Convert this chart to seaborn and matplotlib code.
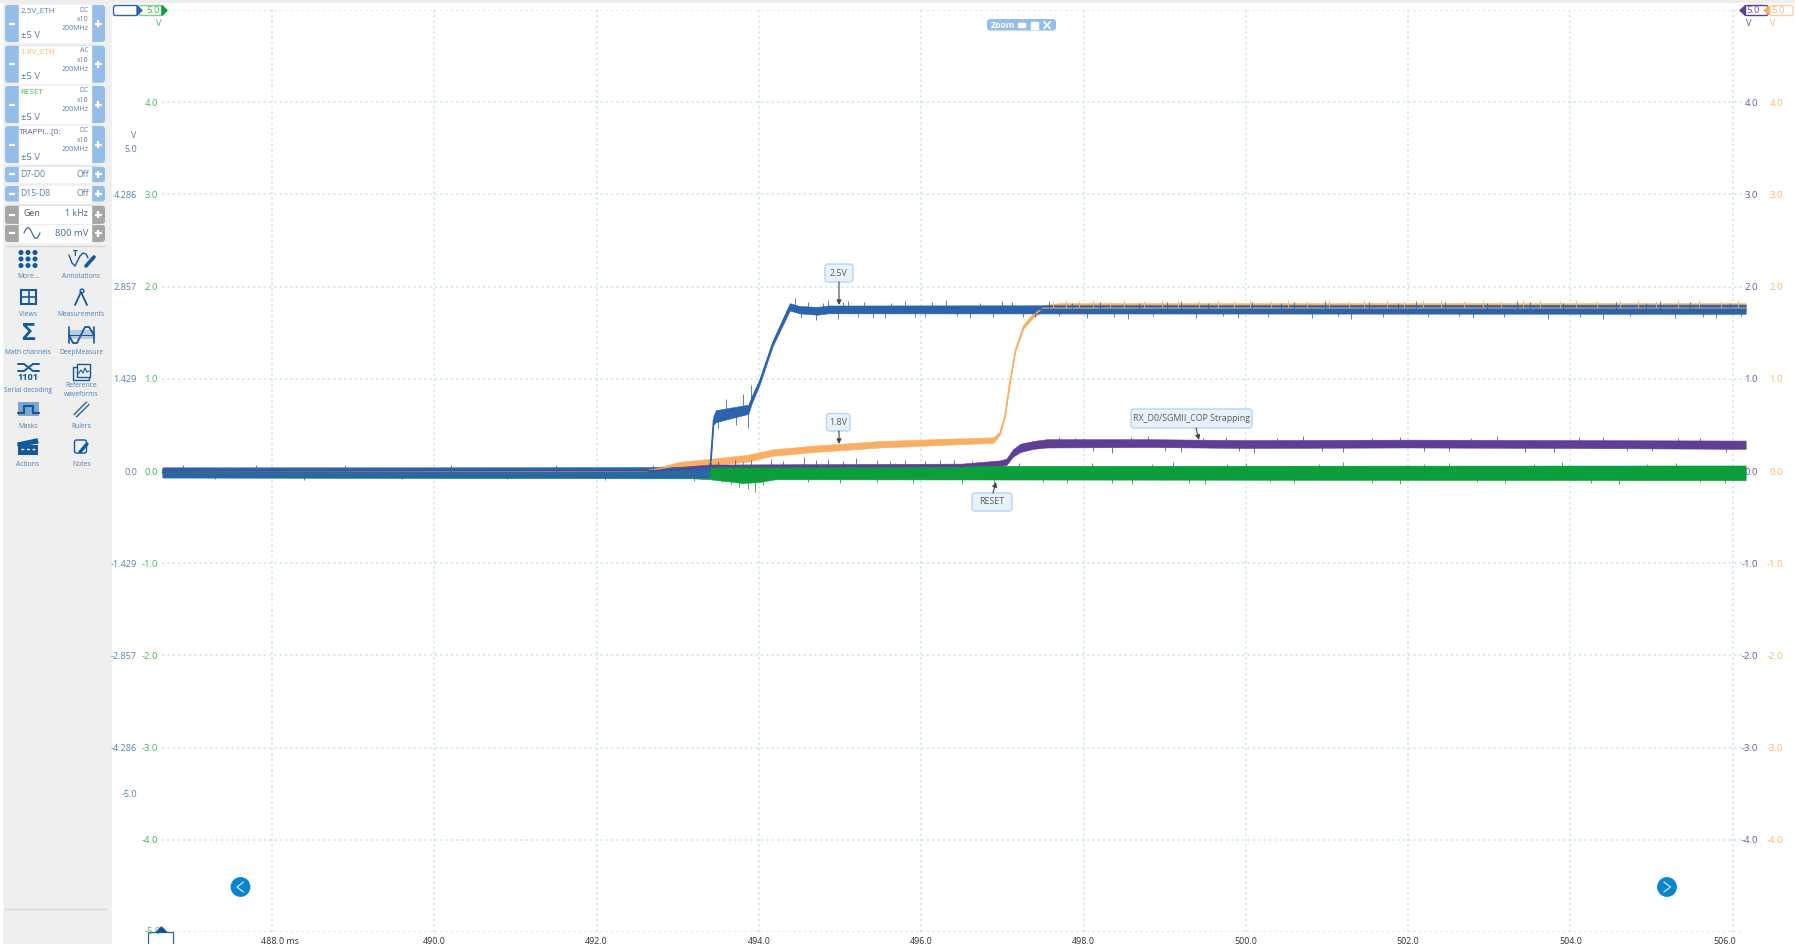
"""Scope capture: power-up of the 2.5 V / 1.8 V rails with RESET and a strapping pin."""

import numpy as np
import pandas as pd
import matplotlib.pyplot as plt
from matplotlib.patches import FancyBboxPatch, Rectangle, Polygon, Circle
from matplotlib.transforms import ScaledTranslation
import seaborn as sns

# ================= DATA =================
# low / high are the edges of the noise band of each trace, in volts
ORANGE_T = [486.65, 492.6, 492.8, 493.03, 493.43, 493.85, 494.17, 494.67, 495.5, 496.31, 496.89, 496.97,
            497.03, 497.09, 497.16, 497.26, 497.38, 497.5, 497.7, 506.16]
ORANGE_LOW = [-0.05, -0.03, 0.01, 0.03, 0.065, 0.10, 0.165, 0.205, 0.255, 0.285, 0.305, 0.395,
              0.58, 0.94, 1.30, 1.545, 1.665, 1.73, 1.71, 1.71]
ORANGE_HIGH = [0.02, 0.03, 0.05, 0.10, 0.135, 0.175, 0.235, 0.275, 0.325, 0.35, 0.365, 0.425,
               0.60, 0.96, 1.32, 1.585, 1.715, 1.80, 1.82, 1.82]

PURPLE_T = [486.65, 492.8, 493.4, 496.5, 496.97, 497.05, 497.13, 497.22, 497.38, 497.55, 498.8, 500.0, 502.0, 504.0, 506.16]
PURPLE_LOW = [-0.03, -0.02, 0.02, 0.02, 0.055, 0.065, 0.155, 0.205, 0.24, 0.255, 0.26, 0.25, 0.255, 0.25, 0.24]
PURPLE_HIGH = [0.03, 0.03, 0.07, 0.08, 0.115, 0.135, 0.235, 0.295, 0.325, 0.345, 0.345, 0.335, 0.34, 0.335, 0.33]

GREEN_T = [486.65, 493.2, 493.4, 493.8, 494.0, 494.2, 506.16]
GREEN_LOW = [-0.07, -0.08, -0.09, -0.13, -0.12, -0.09, -0.10]
GREEN_HIGH = [0.03, 0.04, 0.05, 0.06, 0.06, 0.055, 0.06]

BLUE_T = [486.65, 493.38, 493.40, 493.44, 493.47, 493.87, 493.91, 494.01, 494.17, 494.38, 494.5, 494.72, 494.85, 506.16]
BLUE_LOW = [-0.07, -0.07, 0.0, 0.50, 0.53, 0.62, 0.73, 0.94, 1.355, 1.74, 1.71, 1.695, 1.71, 1.705]
BLUE_HIGH = [0.04, 0.04, 0.12, 0.60, 0.66, 0.72, 0.81, 1.0, 1.415, 1.82, 1.79, 1.78, 1.795, 1.805]

# noise spikes sticking out of the bands: time, far end
BLUE_SPIKE_T = [486.9, 487.3, 487.8, 488.4, 488.9, 489.6, 490.2, 490.9, 491.5, 492.1, 492.7, 493.2,
                493.5, 493.6, 493.72, 493.8, 493.86, 493.9, 494.45, 494.52, 494.61, 494.7, 494.79, 494.85,
                494.98, 495.03, 495.1, 495.22, 495.3, 495.41, 495.55, 495.63, 495.8, 495.92, 496.05, 496.13,
                496.3, 496.44, 496.6, 496.72, 496.88, 497.0, 497.12, 497.26, 497.4, 497.57, 497.7, 497.86,
                498.04, 498.2, 498.37, 498.55, 498.68, 498.86, 499.03, 499.2, 499.39, 499.53, 499.72, 499.9,
                500.08, 500.27, 500.43, 500.6, 500.81, 500.97, 501.13, 501.3, 501.52, 501.69, 501.88, 502.1,
                502.24, 502.46, 502.63, 502.8, 502.97, 503.18, 503.34, 503.5, 503.73, 503.91, 504.12, 504.4,
                504.56, 504.74, 504.93, 505.1, 505.29, 505.47, 505.63, 505.8, 505.97, 506.1]
BLUE_SPIKE_V = [0.07, -0.09, 0.06, -0.10, 0.07, -0.09, 0.06, -0.09, 0.07, -0.10, 0.07, -0.11,
                0.47, 0.78, 0.50, 0.84, 0.47, 0.93, 1.88, 1.66, 1.83, 1.64, 1.82, 1.85,
                1.65, 1.83, 1.84, 1.67, 1.83, 1.66, 1.66, 1.82, 1.84, 1.67, 1.67, 1.83,
                1.85, 1.68, 1.66, 1.82, 1.67, 1.84, 1.83, 1.67, 1.67, 1.84, 1.68, 1.82,
                1.66, 1.83, 1.67, 1.65, 1.82, 1.68, 1.83, 1.84, 1.66, 1.82, 1.68, 1.66,
                1.83, 1.67, 1.82, 1.83, 1.66, 1.84, 1.68, 1.65, 1.83, 1.67, 1.82, 1.84,
                1.67, 1.83, 1.68, 1.66, 1.82, 1.67, 1.84, 1.83, 1.65, 1.82, 1.67, 1.65,
                1.83, 1.68, 1.82, 1.84, 1.66, 1.83, 1.67, 1.66, 1.82, 1.68]
ORANGE_SPIKE_T = [497.62, 497.78, 497.95, 498.12, 498.33, 498.5, 498.74, 498.97, 499.16, 499.42, 499.66, 499.85,
                  500.05, 500.31, 500.52, 500.76, 501.02, 501.27, 501.46, 501.74, 501.95, 502.18, 502.41, 502.69,
                  502.92, 503.14, 503.41, 503.62, 503.87, 504.07, 504.33, 504.61, 504.83, 505.05, 505.33, 505.58,
                  505.86, 506.07]
ORANGE_SPIKE_V = [1.84, 1.85, 1.84, 1.86, 1.84, 1.85, 1.84, 1.85, 1.86, 1.84, 1.85, 1.84,
                  1.85, 1.84, 1.86, 1.84, 1.85, 1.84, 1.86, 1.85, 1.84, 1.85, 1.86, 1.84,
                  1.85, 1.84, 1.85, 1.86, 1.84, 1.85, 1.84, 1.86, 1.85, 1.84, 1.85, 1.86,
                  1.84, 1.85]
PURPLE_SPIKE_T = [493.5, 493.7, 493.9, 494.15, 494.3, 494.55, 494.7, 494.85, 495.03, 495.2, 495.45, 495.62,
                  495.8, 496.05, 496.23, 496.4, 496.62, 497.7, 497.9, 498.12, 498.35, 498.58, 498.8, 499.0,
                  499.2, 499.47, 499.75, 499.92, 500.1, 500.38, 500.7, 500.94, 501.2, 501.55, 501.9, 502.2,
                  502.5, 502.77, 503.1, 503.44, 503.8, 504.1, 504.4, 504.7, 505.0, 505.32, 505.6, 505.92]
PURPLE_SPIKE_V = [0.11, 0.12, 0.12, 0.13, 0.11, 0.15, 0.12, 0.13, 0.11, 0.14, 0.12, 0.11,
                  0.12, 0.11, 0.12, 0.12, 0.11, 0.37, 0.36, 0.22, 0.20, 0.37, 0.38, 0.22,
                  0.21, 0.36, 0.37, 0.22, 0.20, 0.36, 0.38, 0.22, 0.21, 0.36, 0.37, 0.22,
                  0.22, 0.36, 0.38, 0.21, 0.21, 0.37, 0.37, 0.22, 0.22, 0.36, 0.36, 0.21]
GREEN_SPIKE_T = [493.55, 493.66, 493.75, 493.8, 493.86, 493.9, 493.95, 494.05, 494.3, 494.6, 494.78, 495.0,
                 495.2, 495.45, 495.68, 495.9, 496.2, 496.5, 496.7, 496.9, 497.2, 497.5, 497.8, 498.1,
                 498.35, 498.6, 498.85, 499.1, 499.3, 499.5, 499.77, 500.0, 500.3, 500.6, 500.9, 501.2,
                 501.55, 501.9, 502.2, 502.5, 502.85, 503.2, 503.55, 503.9, 504.25, 504.6, 504.95, 505.3,
                 505.6, 505.9]
GREEN_SPIKE_V = [-0.12, -0.14, -0.17, 0.10, -0.19, 0.09, -0.23, -0.15, 0.08, -0.12, 0.08, -0.13,
                 0.08, -0.12, 0.09, -0.13, 0.08, -0.14, 0.08, -0.15, 0.09, -0.12, -0.13, 0.09,
                 -0.13, -0.14, 0.08, 0.10, -0.13, -0.14, 0.08, 0.09, -0.12, -0.13, 0.08, 0.10,
                 -0.13, -0.14, 0.08, 0.09, -0.12, -0.13, 0.08, 0.10, -0.13, -0.14, 0.08, 0.09,
                 -0.12, -0.13]

TIME_TICKS = [488, 490, 492, 494, 496, 498, 500, 502, 504, 506]
VOLT_TICKS = [-4, -3, -2, -1, 0, 1, 2, 3, 4]
GRID_VOLTS = [-5, -4, -3, -2, -1, 0, 1, 2, 3, 4, 5]
BLUE_TICKS = [-5.0, -4.286, -2.857, -1.429, 0.0, 1.429, 2.857, 4.286, 5.0]
BLUE_SCALE = 3.5 / 5.0

CHANNELS = ["2.5V_ETH", "1.8V_ETH", "RESET", "TRAPPI...[0:"]
COUPLINGS = ["DC", "AC", "DC", "DC"]
CHANNEL_TOPS = [5, 45.7, 86, 126]
DIGITAL = ["D7-D0", "D15-D8"]
DIGITAL_TOPS = [166.7, 186]
CALLOUTS = [("2.5V", 825, 264, 853, 282, 839, 282, 839, 305),
            ("1.8V", 826.5, 413.5, 850, 431, 839, 431, 839, 444),
            ("RESET", 972, 493, 1012, 511, 993, 493, 996, 482),
            ("RX_D0/SGMII_COP Strapping", 1131, 409, 1252, 428, 1196, 428, 1199, 440)]

# ================= CONFIG =================
W, H = 1795, 944
AX_L, AX_R, AX_T, AX_B = 162, 1746, 10, 932
XLIM = (486.644, 506.164)
BLUE = "#2B63AD"
ORANGE = "#F9AE63"
GREEN = "#0A9F3B"
PURPLE = "#5E3F95"
BLUE_TXT = "#5B7DB1"
GREEN_TXT = "#45B85A"
PURPLE_TXT = "#6C55A3"
ORANGE_TXT = "#F5B878"
GRID = "#C6E6F1"
BTN = "#94BEE8"
ICON = "#14599B"
ICON_TXT = "#4C7DB5"
FS = 6.4

sns.set_theme(style="white")
plt.rcParams["font.family"] = ["Open Sans", "DejaVu Sans"]


def band_rows(name, t, low, high):
    rows = pd.DataFrame({"t": t + t, "v": low + high})
    rows["channel"] = name
    return rows


def draw_spikes(ax, t_list, v_list, t_base, low, high, col, z):
    # spikes start from the middle of the band
    mid = np.interp(t_list, t_base, (np.array(low) + np.array(high)) / 2)
    ax.vlines(t_list, mid, v_list, color=col, lw=0.7, alpha=0.8, zorder=z)


def draw_traces(ax):
    df = pd.concat([band_rows("1.8V", ORANGE_T, ORANGE_LOW, ORANGE_HIGH),
                    band_rows("TRAP", PURPLE_T, PURPLE_LOW, PURPLE_HIGH),
                    band_rows("RESET", GREEN_T, GREEN_LOW, GREEN_HIGH),
                    band_rows("2.5V", BLUE_T, BLUE_LOW, BLUE_HIGH)])
    palette = {"1.8V": ORANGE, "TRAP": PURPLE, "RESET": GREEN, "2.5V": BLUE}
    sns.lineplot(data=df, x="t", y="v", hue="channel", hue_order=list(palette), palette=palette,
                 errorbar=("pi", 100), err_kws={"alpha": 1, "linewidth": 0.4},
                 linewidth=1, legend=False, ax=ax, clip_on=False)
    draw_spikes(ax, ORANGE_SPIKE_T, ORANGE_SPIKE_V, ORANGE_T, ORANGE_LOW, ORANGE_HIGH, ORANGE, 1.5)
    draw_spikes(ax, PURPLE_SPIKE_T, PURPLE_SPIKE_V, PURPLE_T, PURPLE_LOW, PURPLE_HIGH, PURPLE, 1.5)
    draw_spikes(ax, GREEN_SPIKE_T, GREEN_SPIKE_V, GREEN_T, GREEN_LOW, GREEN_HIGH, GREEN, 1.5)
    draw_spikes(ax, BLUE_SPIKE_T, BLUE_SPIKE_V, BLUE_T, BLUE_LOW, BLUE_HIGH, BLUE, 3)


def setup_axes(ax):
    ax.patch.set_alpha(0)
    ax.set_xlim(*XLIM)
    ax.set_ylim(-5, 5)
    ax.set_xticks(TIME_TICKS)
    ax.set_xticklabels(["488.0 ms"] + [f"{t:.1f}" for t in TIME_TICKS[1:]], fontsize=FS, color="#333333")
    ax.set_yticks(GRID_VOLTS)
    ax.set_yticklabels(["" if abs(v) == 5 else f"{v:.1f}" for v in GRID_VOLTS], fontsize=FS + 0.4, color=GREEN_TXT)
    ax.tick_params(axis="both", length=0, pad=3)
    ax.tick_params(axis="x", pad=3.5)
    ax.grid(True, color=GRID, linestyle=(0, (1.5, 2)), linewidth=1.1)
    ax.set_xlabel("")
    ax.set_ylabel("")
    ax.set_axisbelow(True)
    sns.despine(ax=ax, left=True, bottom=True)


def side_scales(ax):
    # blue channel has its own left scale, purple and orange on the right
    blue = ax.secondary_yaxis(-0.0158, functions=(lambda v: v / BLUE_SCALE, lambda v: v * BLUE_SCALE))
    blue.set_yticks(BLUE_TICKS)
    blue.set_yticklabels([f"{v:.3f}" if abs(v) % 1 else f"{v:.1f}" for v in BLUE_TICKS],
                         fontsize=FS + 0.2, color=BLUE_TXT)
    blue.tick_params(length=0, pad=0)
    blue.spines["left"].set_visible(False)
    for loc, col in [(1.0076, PURPLE_TXT), (1.0234, ORANGE_TXT)]:
        side = ax.secondary_yaxis(loc)
        side.set_yticks(VOLT_TICKS)
        side.set_yticklabels([f"{v:.1f}" for v in VOLT_TICKS], fontsize=FS + 0.4, color=col, ha="right")
        side.tick_params(length=0, pad=0)
        side.spines["right"].set_visible(False)


def box(ui, x0, y0, x1, y1, face, edge="none", r=3, lw=0.8, z=2):
    ui.add_patch(FancyBboxPatch((x0, y0), x1 - x0, y1 - y0, boxstyle=f"round,pad=0,rounding_size={r}",
                                facecolor=face, edgecolor=edge, linewidth=lw, zorder=z))


def label(ui, x, y, s, col=BLUE_TXT, fs=FS, ha="left", weight="normal", z=5):
    ui.text(x, y, s, color=col, fontsize=fs, ha=ha, va="center", fontweight=weight, zorder=z)


def stepper(ui, top, bottom, col=BTN, fg="white"):
    box(ui, 5, top, 105, bottom, col, r=3)
    ui.add_patch(Rectangle((19, top), 72, bottom - top, facecolor="white", zorder=3))
    mid = (top + bottom) / 2
    ui.plot([9, 15], [mid, mid], color=fg, lw=1.6, zorder=4, solid_capstyle="butt")
    ui.plot([94.5, 101.5], [mid, mid], color=fg, lw=1.6, zorder=4, solid_capstyle="butt")
    ui.plot([98, 98], [mid - 3.5, mid + 3.5], color=fg, lw=1.6, zorder=4, solid_capstyle="butt")


def side_panel(ui):
    ui.add_patch(Rectangle((2, 0), 110, H, facecolor="#EFEFEF", zorder=1))
    channel_cols = [BLUE_TXT, ORANGE_TXT, GREEN_TXT, PURPLE_TXT]
    for name, coupling, top, col in zip(CHANNELS, COUPLINGS, CHANNEL_TOPS, channel_cols):
        stepper(ui, top, top + 37)
        label(ui, 18.5 if name.startswith("TRAP") else 20.5, top + 6, name, col, 5.9)
        label(ui, 89, top + 5, coupling, BLUE_TXT, 5, "right")
        label(ui, 89, top + 14.5, "x10", BLUE_TXT, 5, "right")
        label(ui, 89, top + 23.5, "200MHz", BLUE_TXT, 5, "right")
        label(ui, 21, top + 31, "±5 V", BLUE_TXT, 6.8)
    for name, top in zip(DIGITAL, DIGITAL_TOPS):
        stepper(ui, top, top + 15.5)
        label(ui, 20, top + 8, name, BLUE_TXT, 6.2)
        label(ui, 89, top + 8, "Off", BLUE_TXT, 6.2, "right")
    stepper(ui, 205.7, 224, "#A6A6A6")
    stepper(ui, 224.5, 242, "#A6A6A6")
    ui.plot([5, 105], [224.2, 224.2], color="#EFEFEF", lw=0.8, zorder=4)
    label(ui, 23, 214, "Gen", "#555555", 6.4)
    label(ui, 88, 214, "1 kHz", "#4A6A90", 6.4, "right")
    label(ui, 88, 233, "800 mV", "#4A6A90", 6.8, "right")
    wave_x = [24, 26, 28, 30, 32, 34, 36, 38, 40]
    wave_y = [233, 229, 227.5, 229, 233, 237, 238.5, 237, 233]
    ui.plot(wave_x, wave_y, color="#4A6A90", lw=0.9, zorder=5)
    ui.plot([5, 105], [246, 246], color="#D8D8D8", lw=1, zorder=2)
    ui.plot([5, 106], [909, 909], color="#D8D8D8", lw=1, zorder=2)


def tool_icons(ui):
    for dx in (21, 28, 35):
        for dy in (252.5, 259, 265.5):
            ui.add_patch(Circle((dx, dy), 1.8, color=ICON, zorder=5))
    # annotations: curve, T and pencil
    ui.plot([69, 72, 75, 77, 80, 83, 86, 88], [255, 263, 266, 262, 256, 253, 254, 258], color=ICON, lw=1, zorder=5)
    label(ui, 75.5, 254, "T", ICON, 6, "center", "bold")
    ui.plot([86, 94], [266, 257], color=ICON, lw=2.6, zorder=5)
    # views
    ui.add_patch(Rectangle((21, 290), 15, 14, fill=False, edgecolor=ICON, lw=1.5, zorder=5))
    ui.plot([28.5, 28.5], [290, 304], color=ICON, lw=1.2, zorder=5)
    ui.plot([21, 36], [297, 297], color=ICON, lw=1.2, zorder=5)
    # measurements: compass
    ui.plot([75, 81, 87], [305, 292, 305], color=ICON, lw=1.3, zorder=5)
    ui.add_patch(Circle((82, 291), 1.9, fill=False, edgecolor=ICON, lw=1, zorder=5))
    # math
    label(ui, 28.5, 334.5, "Σ", ICON, 17, "center", "bold")
    # deep measure
    ui.plot([69, 69], [327, 343], color=ICON, lw=1.2, zorder=5)
    ui.plot([94, 94], [327, 343], color=ICON, lw=1.2, zorder=5)
    ui.add_patch(Rectangle((69, 330), 25, 9, facecolor="#B9CCE0", edgecolor="none", zorder=4))
    ui.plot([69, 73, 77, 81, 85, 89, 94], [335, 343, 343, 335, 327, 327, 335], color=ICON, lw=1.3, zorder=5)
    ui.plot([69, 94], [335, 335], color=ICON, lw=0.8, zorder=5)
    # serial decoding
    ui.plot([18, 24, 33, 39], [364, 364, 371, 371], color=ICON, lw=1.4, zorder=5)
    ui.plot([18, 24, 33, 39], [371, 371, 364, 364], color=ICON, lw=1.4, zorder=5)
    label(ui, 28.5, 377, "1101", ICON, 6.6, "center", "bold")
    # reference waveforms
    ui.add_patch(Rectangle((73, 367), 16, 13, facecolor="#EFEFEF", edgecolor=ICON, lw=1, zorder=4))
    ui.add_patch(Rectangle((77, 364), 13, 13, facecolor="#EFEFEF", edgecolor=ICON, lw=1, zorder=5))
    ui.plot([78, 81, 83, 85, 87, 89], [374, 370, 373, 368, 372, 371], color=ICON, lw=0.8, zorder=6)
    # masks
    ui.add_patch(Rectangle((18, 402), 21, 14, facecolor="#7FA6CC", edgecolor="none", zorder=4))
    ui.plot([18, 24, 24, 33, 33, 39], [413, 413, 406, 406, 413, 413], color=ICON, lw=1.6, zorder=5)
    # rulers
    ui.plot([75, 88], [416, 403], color=ICON, lw=3.4, zorder=5, solid_capstyle="butt")
    ui.plot([75, 88], [416, 403], color="#EFEFEF", lw=1.6, zorder=6, solid_capstyle="butt")
    # actions: clapper board
    ui.add_patch(Rectangle((18, 445), 20, 10, facecolor=ICON, edgecolor="none", zorder=5))
    ui.add_patch(Polygon([(18, 443), (37, 439), (38, 443), (18, 446)], color=ICON, zorder=5))
    ui.plot([21, 35], [449, 449], color="white", lw=1, linestyle=(0, (2, 2)), zorder=6)
    # notes
    ui.add_patch(FancyBboxPatch((74.5, 440), 12, 13, boxstyle="round,pad=0,rounding_size=2", fill=False,
                                edgecolor=ICON, lw=1, zorder=5))
    ui.plot([80, 87], [452, 444], color=ICON, lw=2.4, zorder=6)

    names = [(28, 277, "More..."), (81.5, 277, "Annotations"), (28, 315, "Views"), (81.5, 315, "Measurements"),
             (28, 352.5, "Math channels"), (81.5, 352.5, "DeepMeasure"), (28, 390, "Serial decoding"),
             (81.5, 385.5, "Reference"), (81.5, 394, "waveforms"), (28, 427, "Masks"), (81.5, 427, "Rulers"),
             (28, 464.5, "Actions"), (81.5, 464.5, "Notes")]
    for x, y, s in names:
        label(ui, x, y, s, ICON_TXT, 4.9, "center")


def scope_furniture(ui):
    ui.plot([0, W], [1, 1], color="#EDEDED", lw=2, zorder=1)
    # channel range flags at the ends of the scales
    box(ui, 113.5, 5.5, 138, 15.5, "white", BLUE, r=2, lw=1)
    ui.add_patch(Polygon([(137, 6), (142, 10.5), (137, 15)], color=BLUE, zorder=4))
    box(ui, 139, 5.5, 162, 15.5, "white", "#7FD08F", r=2, lw=1)
    label(ui, 160, 10.5, "5.0", GREEN_TXT, FS + 0.4, "right")
    ui.add_patch(Polygon([(162, 5.5), (167, 10.5), (162, 15.5)], color=GREEN, zorder=4))
    label(ui, 158.5, 23, "V", GREEN_TXT, FS + 0.2, "center")
    label(ui, 134, 136, "V", BLUE_TXT, FS, "center")

    box(ui, 1745, 5.5, 1768, 15.5, "white", PURPLE, r=2, lw=1)
    ui.add_patch(Polygon([(1745.5, 5.5), (1740, 10.5), (1745.5, 15.5)], color=PURPLE, zorder=4))
    label(ui, 1746.5, 10.5, "5.0", PURPLE_TXT, FS + 0.4)
    box(ui, 1770, 5.5, 1793, 15.5, "white", "#F9CFA2", r=2, lw=1)
    ui.add_patch(Polygon([(1769, 6.5), (1764, 10.5), (1769, 14.5)], color=ORANGE, zorder=4))
    label(ui, 1771, 10.5, "5.0", ORANGE_TXT, FS + 0.4)
    label(ui, 1749, 23, "V", PURPLE_TXT, FS + 0.2, "center")
    label(ui, 1773, 23, "V", ORANGE_TXT, FS + 0.2, "center")

    # bottom end of the scales
    ui.add_patch(Rectangle((148, 932), 25, 14, facecolor="white", edgecolor=BLUE, lw=0.9, zorder=3))
    label(ui, 161, 931, "-5.0", GREEN_TXT, FS + 0.4, "right", z=4)
    ui.add_patch(Polygon([(156.5, 932), (161.5, 927), (166.5, 932)], color="#0F4F92", zorder=5))

    # zoom toolbar
    box(ui, 987, 19, 1056, 30.5, BTN, r=3, z=4)
    label(ui, 991, 25, "Zoom", "white", 6.2, weight="bold", z=6)
    ui.add_patch(Rectangle((1018, 22.5), 7, 4, facecolor="white", zorder=6))
    ui.add_patch(Rectangle((1031, 21.5), 7, 7.5, facecolor="white", zorder=6))
    ui.plot([1044, 1050], [22, 28.5], color="white", lw=1.2, zorder=6)
    ui.plot([1044, 1050], [28.5, 22], color="white", lw=1.2, zorder=6)

    # page arrows
    for cx, tip, back in [(240.5, 237, 243.5), (1667, 1670.5, 1664)]:
        ui.add_patch(Circle((cx, 887), 9.2, color="#0A84CF", zorder=5))
        ui.plot([back, tip, back], [882, 887, 892], color="#CFE9F8", lw=0.9, zorder=6)


def callouts(ui):
    for s, x0, y0, x1, y1, ax0, ay0, ax1, ay1 in CALLOUTS:
        box(ui, x0, y0, x1, y1, "#E9F2FB", "#B5D5F3", r=3, lw=1, z=8)
        label(ui, (x0 + x1) / 2, (y0 + y1) / 2, s, "#5A5A5A", FS, "center", z=9)
        ui.annotate("", xy=(ax1, ay1), xytext=(ax0, ay0), zorder=8,
                    arrowprops=dict(arrowstyle="-|>", color="#444444", lw=0.8, mutation_scale=7,
                                    shrinkA=0, shrinkB=0))


def pixel_layer(fig, z):
    layer = fig.add_axes([0, 0, 1, 1], facecolor="none", zorder=z)
    layer.set_xlim(0, W)
    layer.set_ylim(H, 0)
    layer.axis("off")
    return layer


def main():
    fig = plt.figure(figsize=(W / 100, H / 100), dpi=100, facecolor="white")

    back = pixel_layer(fig, 0)
    side_panel(back)
    tool_icons(back)

    ax = fig.add_axes([AX_L / W, (H - AX_B) / H, (AX_R - AX_L) / W, (AX_B - AX_T) / H], zorder=1)
    draw_traces(ax)
    setup_axes(ax)
    side_scales(ax)

    # 488.0 ms: the number sits on the grid line, the unit hangs off it
    first = ax.get_xticklabels()[0]
    first.set_horizontalalignment("left")
    first.set_transform(first.get_transform() + ScaledTranslation(-11 / 100, 0, fig.dpi_scale_trans))
    last = ax.get_xticklabels()[-1]
    last.set_transform(last.get_transform() + ScaledTranslation(-8 / 100, 0, fig.dpi_scale_trans))

    ui = pixel_layer(fig, 2)
    scope_furniture(ui)
    callouts(ui)

    fig.savefig("out.png", dpi=100)
    plt.close(fig)


if __name__ == "__main__":
    main()
